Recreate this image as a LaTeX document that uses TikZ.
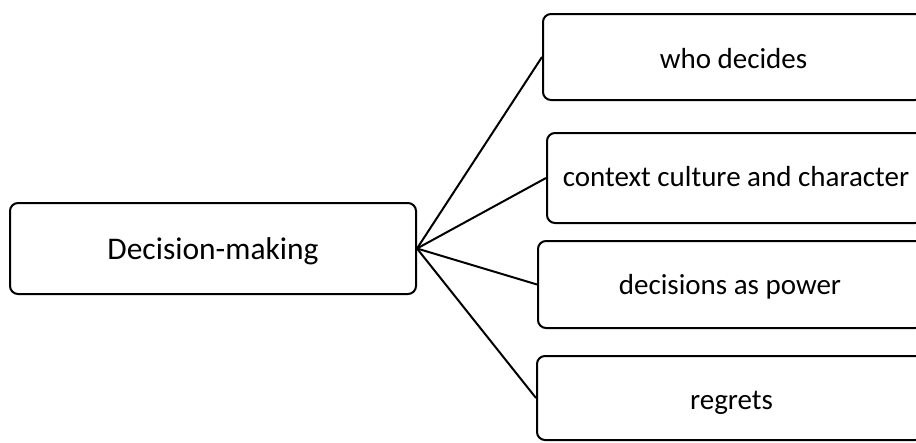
\documentclass[tikz,border=0pt]{standalone}
\usepackage{fontspec}
\setmainfont{Carlito}
\begin{document}
\begin{tikzpicture}[x=1pt,y=-1pt,
  box/.style={draw=black, line width=2pt, rounded corners=8pt, fill=white,
    inner sep=0pt},
  hubtext/.style={anchor=base, inner sep=0pt, font=\fontsize{31.5}{38}\selectfont},
  leaftext/.style={anchor=base, inner sep=0pt, font=\fontsize{29}{35}\selectfont},
  link/.style={draw=black, line width=2pt}]
  \useasboundingbox (0,0) rectangle (916,442);
  \clip (0,0) rectangle (916,442);
  \fill[white] (0,0) rectangle (916,442);

  % central topic
  \node[box, minimum width=406pt, minimum height=91pt] (hub) at (213,248.5) {};
  \node[hubtext] (hubt) at (213,259) {Decision-making};

  % branch topics
  \node[box, minimum width=380pt, minimum height=86pt] (who) at (733,57) {};
  \node[leaftext] (whot) at (733.5,68) {who decides};

  \node[box, minimum width=376pt, minimum height=90pt] (ctx) at (735,178) {};
  \node[leaftext] (ctxt) at (736,186) {context culture and character};

  \node[box, minimum width=385pt, minimum height=87pt] (pow) at (730.5,284.5) {};
  \node[leaftext] (powt) at (730,294) {decisions as power};

  \node[box, minimum width=386pt, minimum height=84pt] (reg) at (730,398) {};
  \node[leaftext] (regt) at (731.5,409) {regrets};

  % connectors fanning out from the central topic
  \foreach \t in {who,ctx,pow,reg}
    \draw[link] (hub.east) -- (\t.west);
\end{tikzpicture}
\end{document}
